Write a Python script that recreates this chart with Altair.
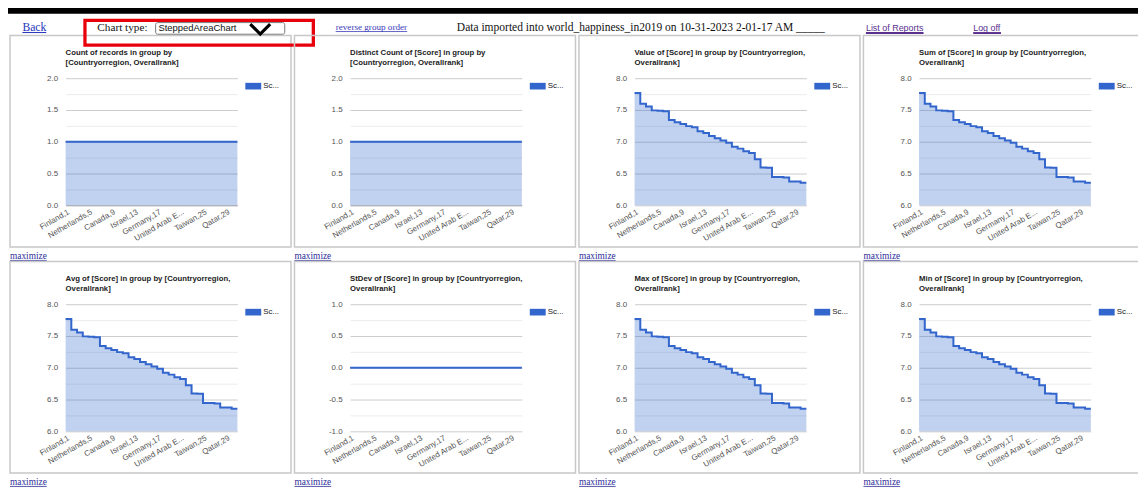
import altair as alt
import pandas as pd

# ---------------- data ----------------
countries = ["Finland", "Denmark", "Norway", "Iceland", "Netherlands", "Switzerland",
             "Sweden", "New Zealand", "Canada", "Austria", "Australia", "Costa Rica",
             "Israel", "Luxembourg", "United Kingdom", "Ireland", "Germany", "Belgium",
             "United States", "Czech Republic", "United Arab Emirates", "Malta", "Mexico",
             "France", "Taiwan", "Chile", "Guatemala", "Saudi Arabia", "Qatar", "Spain"]
ranks = [1, 2, 3, 4, 5, 6, 7, 8, 9, 10, 11, 12, 13, 14, 15,
         16, 17, 18, 19, 20, 21, 22, 23, 24, 25, 26, 27, 28, 29, 30]
scores = [7.769, 7.600, 7.554, 7.494, 7.488, 7.480, 7.343, 7.307, 7.278, 7.246,
          7.228, 7.167, 7.139, 7.090, 7.054, 7.021, 6.986, 6.923, 6.892, 6.852,
          6.825, 6.726, 6.595, 6.592, 6.446, 6.444, 6.436, 6.375, 6.374, 6.354]
record_counts = [1, 1, 1, 1, 1, 1, 1, 1, 1, 1, 1, 1, 1, 1, 1,
                 1, 1, 1, 1, 1, 1, 1, 1, 1, 1, 1, 1, 1, 1, 1]
distinct_counts = [1, 1, 1, 1, 1, 1, 1, 1, 1, 1, 1, 1, 1, 1, 1,
                   1, 1, 1, 1, 1, 1, 1, 1, 1, 1, 1, 1, 1, 1, 1]
score_stdev = [0, 0, 0, 0, 0, 0, 0, 0, 0, 0, 0, 0, 0, 0, 0,
               0, 0, 0, 0, 0, 0, 0, 0, 0, 0, 0, 0, 0, 0, 0]
series_name = "Score"

ticks_count = [0.0, 0.25, 0.5, 0.75, 1.0, 1.25, 1.5, 1.75, 2.0]
ticks_score = [6.0, 6.25, 6.5, 6.75, 7.0, 7.25, 7.5, 7.75, 8.0]
ticks_stdev = [-1.0, -0.75, -0.5, -0.25, 0.0, 0.25, 0.5, 0.75, 1.0]
x_label_positions = [0.5, 4.5, 8.5, 12.5, 16.5, 20.5, 24.5, 28.5]

panel_titles = [
    "Count of records in group by\n[Countryorregion, Overallrank]",
    "Distinct Count of [Score] in group by\n[Countryorregion, Overallrank]",
    "Value of [Score] in group by [Countryorregion,\nOverallrank]",
    "Sum of [Score] in group by [Countryorregion,\nOverallrank]",
    "Avg of [Score] in group by [Countryorregion,\nOverallrank]",
    "StDev of [Score] in group by [Countryorregion,\nOverallrank]",
    "Max of [Score] in group by [Countryorregion,\nOverallrank]",
    "Min of [Score] in group by [Countryorregion,\nOverallrank]",
]
panel_values = [record_counts, distinct_counts, scores, scores, scores, score_stdev, scores, scores]
panel_domains = [[0, 2], [0, 2], [6, 8], [6, 8], [6, 8], [-1, 1], [6, 8], [6, 8]]
panel_bases = [0, 0, 6, 6, 6, 0, 6, 6]
panel_ticks = [ticks_count, ticks_count, ticks_score, ticks_score, ticks_score, ticks_stdev, ticks_score, ticks_score]

header_texts = {
    "back": "Back",
    "chart_type": "Chart type:",
    "select": "SteppedAreaChart",
    "reverse": "reverse group order",
    "info": "Data imported into world_happiness_in2019 on 10-31-2023 2-01-17 AM _____",
    "reports": "List of Reports",
    "logoff": "Log off",
    "maximize": "maximize",
}

# ---------------- styling ----------------
PW, PH = 173, 128
BLUE = "#3366cc"
SANS = "Liberation Sans"
SERIF = "Liberation Serif"
MAJOR = "abs(datum.value*2 - round(datum.value*2)) < 0.001"

cat_labels = [f"{c},{r}" for c, r in zip(countries, ranks)]
short_labels = [l if len(l) <= 16 else l[:13] + "..." for l in cat_labels]
label_expr = "[" + ",".join("'" + l + "'" for l in short_labels) + "][floor(datum.value)]"


def one(**kw):
    return pd.DataFrame({k: [v] for k, v in kw.items()})


def text_layer(txt, x, y, font, size, color, weight="normal"):
    return alt.Chart(one(t=txt)).mark_text(
        align="left", baseline="alphabetic", font=font, fontSize=size,
        color=color, fontWeight=weight
    ).encode(x=alt.value(x), y=alt.value(y), text="t:N")


def rule_layer(x, x2, y, color, width=1):
    return alt.Chart(one(a=0)).mark_rule(color=color, strokeWidth=width).encode(
        x=alt.value(x), x2=alt.value(x2), y=alt.value(y))


def rect_layer(x, x2, y, y2, fill="transparent", stroke=None, sw=1, radius=0):
    kw = dict(fill=fill, cornerRadius=radius)
    if stroke:
        kw.update(stroke=stroke, strokeWidth=sw)
    return alt.Chart(one(a=0)).mark_rect(**kw).encode(
        x=alt.value(x), x2=alt.value(x2), y=alt.value(y), y2=alt.value(y2))


def header_layers():
    L = []
    L.append(rect_layer(-66, 1094, -77, 423))                    # page extent (invisible)
    L.append(rect_layer(-66, 1094, -77, -65, fill="#000000"))    # black top bar
    L.append(text_layer(header_texts["back"], -43.5, -47.7, SERIF, 11.7, "#2233bb"))
    L.append(rule_layer(-43.5, -19.5, -46, "#2233bb", 1))
    L.append(text_layer(header_texts["chart_type"], 32, -47.3, SERIF, 11.3, "#111111"))
    L.append(rect_layer(90.7, 220.7, -56, -44.3, fill="#ffffff", stroke="#7a7a7a", sw=1, radius=2))
    L.append(text_layer(header_texts["select"], 93.5, -47.8, SANS, 9.5, "#111111"))
    L.append(alt.Chart(one(a=0)).mark_point(
        shape="M-1,-0.5L0,0.5L1,-0.5", size=400, filled=False, stroke="#000000",
        strokeWidth=3.2, opacity=1, strokeJoin="miter").encode(
        x=alt.value(196), y=alt.value(-49.5)))
    L.append(rect_layer(19.5, 249.5, -58.3, -33.4, stroke="#e8000b", sw=3.3))
    L.append(text_layer(header_texts["reverse"], 272, -48.5, SERIF, 9.2, "#3a3ab8"))
    L.append(rule_layer(272, 344, -47, "#3a3ab8", 0.8))
    L.append(text_layer(header_texts["info"], 394, -47.5, SERIF, 11.6, "#111111"))
    L.append(text_layer(header_texts["reports"], 806, -48, SANS, 9, "#5b3190"))
    L.append(rule_layer(806, 864, -45.5, "#5b3190", 2))
    L.append(text_layer(header_texts["logoff"], 914, -48, SANS, 9, "#5b3190"))
    L.append(rule_layer(914, 942, -45.5, "#5b3190", 2))
    return L


def panel(i):
    values = panel_values[i]
    df = pd.DataFrame({
        "idx": list(range(len(countries))),
        "value": values,
        "series": [series_name] * len(countries),
    })
    base = (alt.Chart(df)
            .transform_calculate(x0="datum.idx", x1="datum.idx + 1")
            .transform_fold(["x0", "x1"], as_=["edge", "xpos"])
            .transform_calculate(sortkey="datum.idx * 2 + (datum.edge == 'x1' ? 1 : 0)"))

    if panel_bases[i] == 0 and panel_domains[i][0] == 0:
        grid_color = {"condition": [{"test": "datum.value == 0", "value": "#9a9a9a"},
                                    {"test": MAJOR, "value": "#cccccc"}],
                      "value": "#ececec"}
    else:
        grid_color = {"condition": {"test": MAJOR, "value": "#cccccc"}, "value": "#ececec"}

    xenc = alt.X("xpos:Q", title=None,
                 scale=alt.Scale(domain=[0, len(countries)], nice=False, zero=False),
                 axis=alt.Axis(values=x_label_positions, labelExpr=label_expr, grid=False,
                               ticks=False, tickSize=0, domain=False, labelAngle=330,
                               labelAlign="right", labelBaseline="middle", labelPadding=6,
                               labelFont=SANS, labelFontSize=8, labelColor="#555555",
                               labelOverlap=False, labelBound=False, labelFlush=False))
    yenc = alt.Y("value:Q", title=None,
                 scale=alt.Scale(domain=panel_domains[i], nice=False, zero=False),
                 axis=alt.Axis(values=panel_ticks[i], grid=True, gridColor=grid_color,
                               labelExpr="%s ? replace(format(datum.value, '.1f'), '\u2212', '-') : ''" % MAJOR,
                               ticks=False, tickSize=0, domain=False, labelPadding=8,
                               labelFont=SANS, labelFontSize=8, labelColor="#555555"))

    area = base.mark_area(color=BLUE, fillOpacity=0.3, stroke=None).encode(
        x=xenc, y=yenc, y2=alt.datum(panel_bases[i]))
    line = base.mark_line(strokeWidth=2).encode(
        x=xenc, y=yenc, order="sortkey:Q",
        color=alt.Color("series:N", scale=alt.Scale(range=[BLUE]),
                        legend=alt.Legend(orient="none", legendX=181, legendY=0, title=None,
                                          symbolType="M-1,-0.42H1V0.42H-1Z", symbolSize=256,
                                          symbolFillColor=BLUE, symbolStrokeColor=BLUE,
                                          symbolOpacity=1, symbolStrokeWidth=0, labelOffset=2,
                                          labelExpr="slice(datum.label, 0, 2) + '...'",
                                          labelFont=SANS, labelFontSize=8,
                                          labelColor="#222222")))

    layers = [area, line]
    layers.append(rect_layer(-56, 227, -43, 170, stroke="#c8c8c8", sw=1.5))
    layers.append(alt.Chart(one(t=panel_titles[i])).mark_text(
        align="left", baseline="alphabetic", font=SANS, fontSize=7.8, fontWeight="bold",
        color="#222222", lineBreak="\n", lineHeight=10).encode(
        x=alt.value(0), y=alt.value(-23.7), text="t:N"))
    layers.append(text_layer(header_texts["maximize"], -56, 182, SERIF, 9.4, "#2e2e99"))
    layers.append(rule_layer(-56, -19, 183.5, "#2e2e99", 0.8))
    if i == 0:
        layers += header_layers()
    return alt.layer(*layers).properties(width=PW, height=PH)


panels = [panel(i) for i in range(8)]

chart = (alt.concat(*panels, columns=4, spacing={"row": 99.6, "column": 113.5}, bounds="flush")
         .resolve_scale(x="independent", y="independent", color="independent")
         .resolve_legend(color="independent")
         .properties(padding={"left": -8, "top": -8, "right": -14, "bottom": -9},
                     background="#ffffff")
         .configure_view(stroke=None))

chart.save("out.html", embed_options={"renderer": "svg", "actions": False})
